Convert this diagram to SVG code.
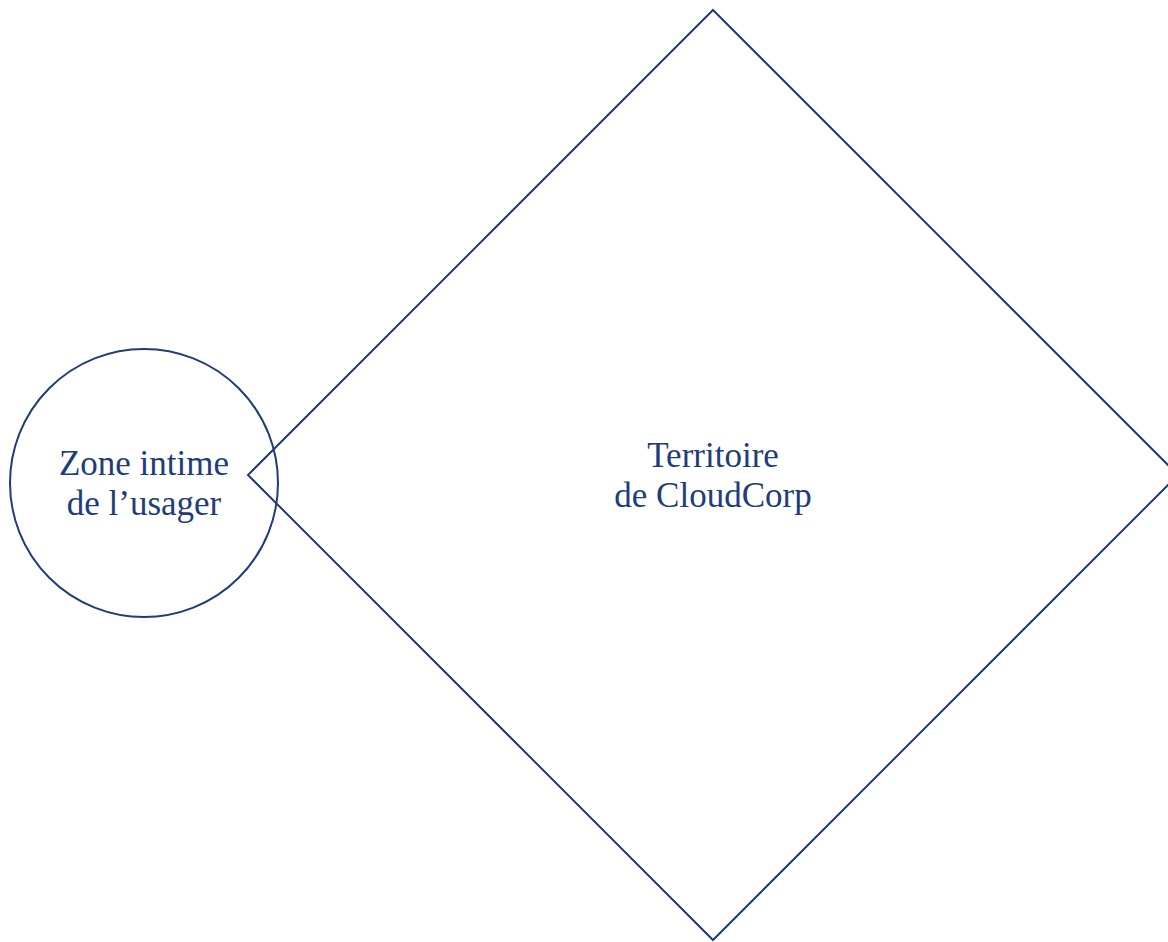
<svg xmlns="http://www.w3.org/2000/svg" width="1168" height="942" viewBox="0 0 1168 942">
<style>
.shape{fill:none;stroke:#203d7a;stroke-width:2}
.lbl{font-family:"Liberation Serif","DejaVu Serif",serif;font-size:35px;fill:#203d7a;text-anchor:middle}
</style>
<rect width="1168" height="942" fill="#ffffff"/>
<g id="territoire">
<polygon class="shape" points="713,10 1178,475 713,940 248,475"/>
<text class="lbl" x="713" y="467">Territoire</text>
<text class="lbl" x="713" y="507">de CloudCorp</text>
</g>
<g id="zone">
<circle class="shape" cx="144" cy="483" r="134"/>
<text class="lbl" x="144" y="475">Zone intime</text>
<text class="lbl" x="144" y="515">de l’usager</text>
</g>
<g id="connectors"></g>
</svg>
